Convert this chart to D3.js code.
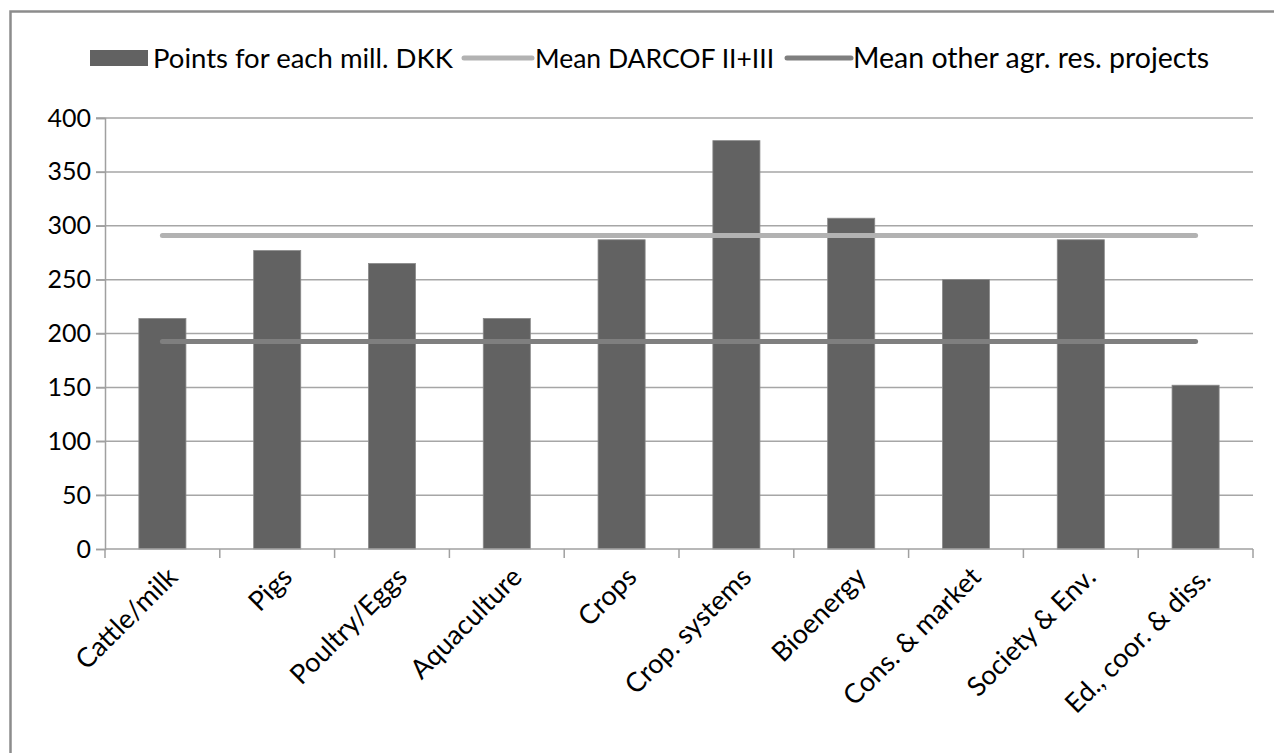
<!DOCTYPE html>
<html>
<head>
<meta charset="utf-8">
<script src="https://cdn.jsdelivr.net/npm/d3@7"></script>
<style>
  html, body { margin: 0; padding: 0; background: #fff; }
  svg { display: block; }
  text { font-family: Lato, "Open Sans", sans-serif; fill: #000; }
</style>
</head>
<body>
<svg id="chart" width="1274" height="753"></svg>
<script>
const categories = ["Cattle/milk", "Pigs", "Poultry/Eggs", "Aquaculture", "Crops",
  "Crop. systems", "Bioenergy", "Cons. & market", "Society & Env.", "Ed., coor. & diss."];
const pointsPerMill = [214, 277, 265, 214, 287, 379, 307, 250, 287, 152];
const meanDarcof = [291, 291, 291, 291, 291, 291, 291, 291, 291, 291];
const meanOther = [192.5, 192.5, 192.5, 192.5, 192.5, 192.5, 192.5, 192.5, 192.5, 192.5];
const yTicks = [0, 50, 100, 150, 200, 250, 300, 350, 400];
const seriesNames = ["Points for each mill. DKK", "Mean DARCOF II+III", "Mean other agr. res. projects"];

const svg = d3.select("#chart");
const W = 1274, H = 753;

// outer border
svg.append("rect").attr("x", 10.5).attr("y", 11.5).attr("width", W + 10).attr("height", H + 10)
  .attr("fill", "none").attr("stroke", "#8c8c8c").attr("stroke-width", 2.5);

const m = { left: 105, right: 1253, top: 118, bottom: 549 };
const x = d3.scaleBand().domain(categories).range([m.left, m.right]).paddingInner(0.59).paddingOuter(0.295);
const xc = d3.scaleBand().domain(categories).range([m.left, m.right]);
const y = d3.scaleLinear().domain([0, 400]).range([m.bottom, m.top]);

// gridlines
svg.append("g").selectAll("line").data(yTicks.filter(d => d > 0)).join("line")
  .attr("x1", m.left - 9).attr("x2", m.right)
  .attr("y1", d => y(d)).attr("y2", d => y(d))
  .attr("stroke", "#a6a6a6").attr("stroke-width", 1.5);

// y axis
const yAxis = d3.axisLeft(y).tickValues(yTicks).tickSize(9).tickPadding(5);
const gy = svg.append("g").attr("transform", `translate(${m.left},0)`).call(yAxis);
gy.select(".domain").attr("stroke", "#a0a0a0").attr("stroke-width", 1.5);
gy.selectAll(".tick line").attr("stroke", "#a0a0a0").attr("stroke-width", 1.5);
gy.selectAll(".tick text").attr("font-size", 25).attr("font-family", "Lato, sans-serif").attr("fill", "#111");

// bars
svg.append("g").selectAll("rect").data(categories).join("rect")
  .attr("x", d => x(d)).attr("width", x.bandwidth())
  .attr("y", (d, i) => y(pointsPerMill[i]))
  .attr("height", (d, i) => y(0) - y(pointsPerMill[i]))
  .attr("fill", "#626262").attr("stroke", "#8a8a8a").attr("stroke-width", 0.8);

// x axis
const gx = svg.append("g").attr("transform", `translate(0,${m.bottom})`);
gx.append("line").attr("x1", m.left).attr("x2", m.right).attr("stroke", "#a0a0a0").attr("stroke-width", 1.5);
const boundaries = categories.map(c => xc(c)).concat([m.right]);
gx.selectAll("line.t").data(boundaries).join("line").attr("class", "t")
  .attr("x1", d => d).attr("x2", d => d).attr("y1", 0).attr("y2", 9)
  .attr("stroke", "#a0a0a0").attr("stroke-width", 1.5);
gx.selectAll("text").data(categories).join("text")
  .attr("transform", d => `translate(${xc(d) + xc.bandwidth() / 2 + 10},${23}) rotate(-45)`)
  .attr("text-anchor", "end").attr("font-size", 27).attr("dy", "0.35em")
  .text(d => d);

// mean lines
const line = d3.line().x((d, i) => xc(categories[i]) + xc.bandwidth() / 2).y(d => y(d));
svg.append("path").datum(meanDarcof).attr("d", line).attr("fill", "none")
  .attr("stroke", "#b2b2b2").attr("stroke-width", 5).attr("stroke-linecap", "round");
svg.append("path").datum(meanOther).attr("d", line).attr("fill", "none")
  .attr("stroke", "#7f7f7f").attr("stroke-width", 5).attr("stroke-linecap", "round");

// legend
const lg = svg.append("g").attr("font-size", 27.5);
lg.append("rect").attr("x", 90).attr("y", 50).attr("width", 58).attr("height", 16).attr("fill", "#626262");
lg.append("text").attr("x", 153).attr("y", 68).text(seriesNames[0]);
lg.append("line").attr("x1", 464).attr("x2", 532).attr("y1", 58).attr("y2", 58)
  .attr("stroke", "#b2b2b2").attr("stroke-width", 5).attr("stroke-linecap", "round");
lg.append("text").attr("x", 535).attr("y", 68).attr("font-size", 26.5).text(seriesNames[1]);
lg.append("line").attr("x1", 787).attr("x2", 851).attr("y1", 58).attr("y2", 58)
  .attr("stroke", "#7f7f7f").attr("stroke-width", 5).attr("stroke-linecap", "round");
lg.append("text").attr("x", 853).attr("y", 68).attr("font-size", 28.5).text(seriesNames[2]);
</script>
</body>
</html>
